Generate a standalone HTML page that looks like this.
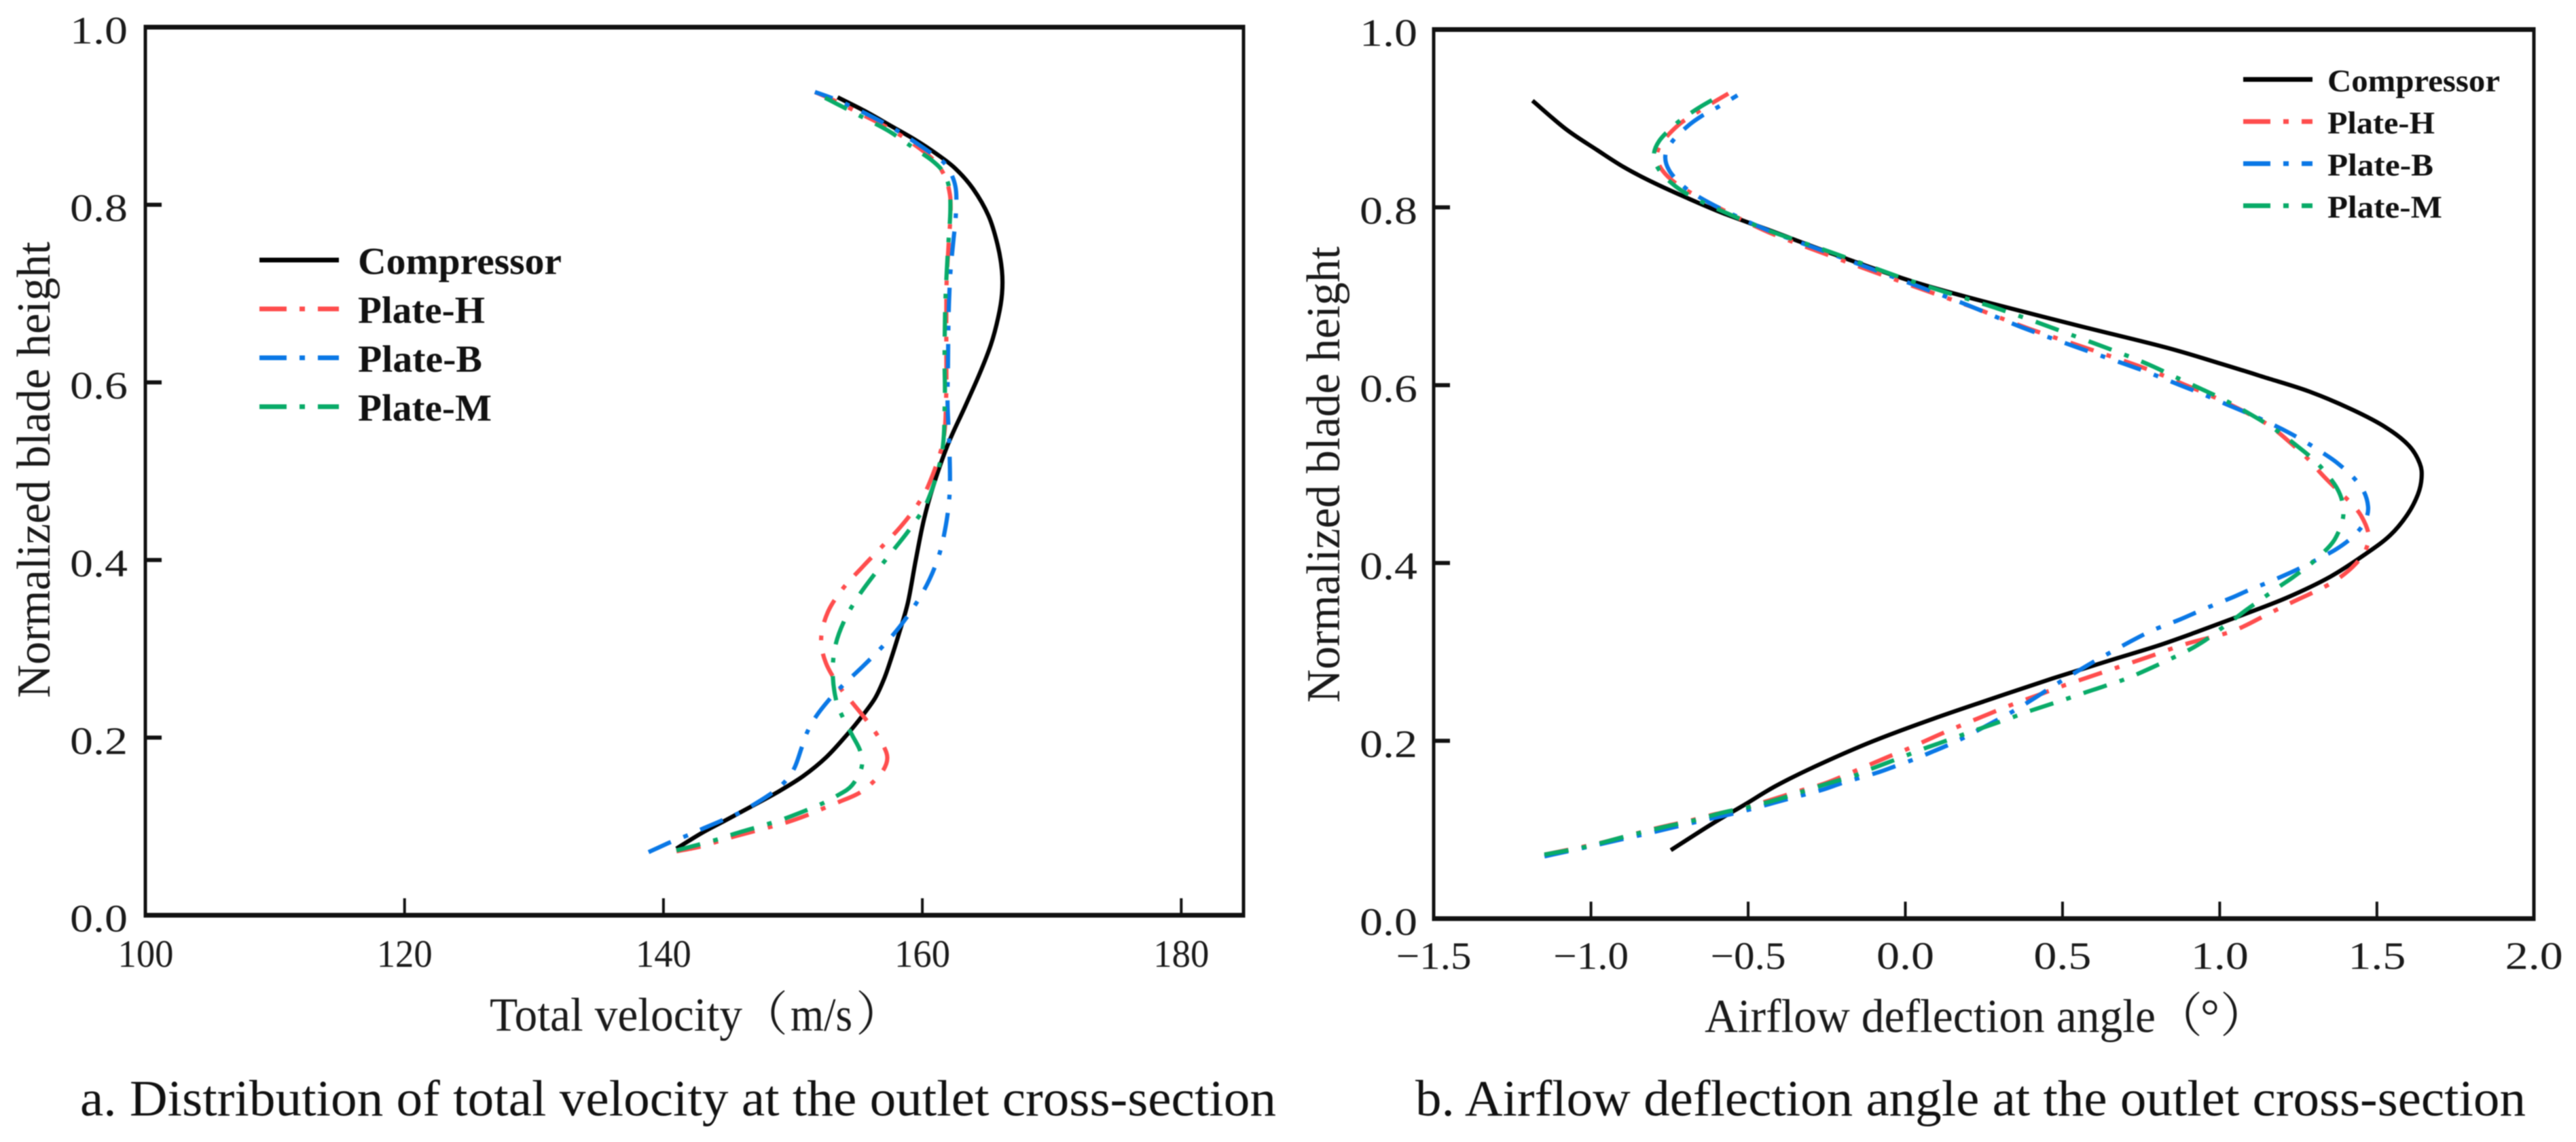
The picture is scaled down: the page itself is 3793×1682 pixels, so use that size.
<!DOCTYPE html>
<html lang="en">
<head>
<meta charset="utf-8">
<title>Outlet cross-section charts</title>
<style>
html,body{margin:0;padding:0;background:#fff;width:3793px;height:1682px;overflow:hidden}
svg{display:block;filter:blur(0.9px)}
text{font-family:"Liberation Serif","Noto Serif CJK SC",serif;fill:#1a1a1a}
.tick{font-size:57px}
.title{font-size:70px}
.cap{font-size:75px;fill:#111}
.leg{font-weight:bold;fill:#111}
</style>
</head>
<body>
<svg id="chart" xmlns="http://www.w3.org/2000/svg" width="3793" height="1682" viewBox="0 0 3793 1682">
  <rect x="0" y="0" width="3793" height="1682" fill="#fff"/>
  <g id="panel-a"></g>
  <g id="panel-b"></g>

  <text class="title" transform="translate(73,1028) rotate(-90)" textLength="672" lengthAdjust="spacingAndGlyphs">Normalized blade height</text>
  <g>
    <text class="title" x="721" y="1518" textLength="372" lengthAdjust="spacingAndGlyphs">Total velocity</text>
    <text class="title" x="1090" y="1518">（</text>
    <text class="title" x="1164" y="1518" textLength="91" lengthAdjust="spacingAndGlyphs">m/s</text>
    <text class="title" x="1260" y="1518">）</text>
  </g>
  <text class="cap" x="118" y="1643" textLength="1761" lengthAdjust="spacingAndGlyphs">a. Distribution of total velocity at the outlet cross-section</text>

  <text class="title" transform="translate(1972,1035) rotate(-90)" textLength="672" lengthAdjust="spacingAndGlyphs">Normalized blade height</text>
  <g>
    <text class="title" x="2510" y="1520" textLength="664" lengthAdjust="spacingAndGlyphs">Airflow deflection angle</text>
    <text class="title" x="3173" y="1520">（</text>
    <text class="title" x="3240" y="1520">°</text>
    <text class="title" x="3269" y="1520">）</text>
  </g>
  <text class="cap" x="2084" y="1643" textLength="1635" lengthAdjust="spacingAndGlyphs">b. Airflow deflection angle at the outlet cross-section</text>
</svg>
<script>
// ---- shared data ----
const seriesNames = ["Compressor", "Plate-H", "Plate-B", "Plate-M"];
const seriesColors = ["#000000", "#ff4d4d", "#0a78e6", "#08ab68"];
const yTickValues = [0.2, 0.4, 0.6, 0.8];
const yTickLabels = ["0.0", "0.2", "0.4", "0.6", "0.8", "1.0"];

// ---- panel a: total velocity (m/s) against normalized blade height ----
const aXTicks = [100, 120, 140, 160, 180];
const aCompressorV = [141,142.95,144.7,146.6,148.9,150.8,152.6,154.3,155.4,156.4,157.05,157.45,158.25,158.9,159.5,160.1,160.7,161.9,163.35,164.45,165.35,165.9,166.2,166.2,165.85,165.2,163.95,162.55,161.15,159.4,157.65,155.55,153.45];
const aCompressorH = [.075,.093,.106,.121,.139,.156,.177,.205,.225,.244,.266,.282,.32,.349,.402,.446,.478,.53,.574,.61,.643,.674,.70,.725,.755,.788,.819,.842,.857,.874,.888,.906,.921];
const aPlateHV = [141,142.6,144.2,145.25,148.4,149.45,151.2,152.3,153.45,155.2,156.15,157.05,157.4,157.05,156.45,155.4,154.5,153.7,152.4,152.05,152.6,153.8,155.3,156.8,158.35,159.65,160.45,161.8,161.85,161.85,161.85,161.85,162,162.2,162.2,161.75,160.95,159.2,157.5,155.55,153.45,151.7];
const aPlateHH = [.072,.076,.083,.088,.10,.104,.113,.12,.127,.137,.149,.163,.177,.19,.205,.225,.241,.254,.285,.311,.342,.368,.391,.414,.437,.462,.481,.534,.585,.635,.674,.712,.75,.791,.811,.834,.851,.87,.886,.90,.916,.927];
const aPlateBV = [138.85,140.6,141.75,142.95,144.55,145.8,148.4,149.35,150.15,150.7,151.1,151.7,152.85,153.7,155.4,156.85,158.25,159.55,160.6,161.4,161.85,162.1,162.15,162.1,161.9,162,162,162.05,162.15,162.4,162.6,162.7,161.85,160.95,159.3,157.6,155.6,153.5,151.7];
const aPlateBH = [.071,.083,.089,.097,.107,.114,.137,.149,.164,.19,.207,.223,.244,.257,.28,.301,.324,.351,.378,.408,.44,.469,.49,.53,.577,.622,.661,.687,.725,.76,.787,.822,.847,.855,.872,.888,.903,.918,.927];
const aPlateMV = [141,144.2,145.25,148.4,149.45,152.4,153.45,154.6,155.45,155.3,154.6,153.8,153.3,153,153.2,153.95,155.1,156.4,157.75,159.05,160.45,161.7,161.75,161.7,161.75,161.9,162,162.2,162.15,161.65,160.9,159.1,157.4,155.45,153.35,151.6];
const aPlateMH = [.073,.085,.091,.104,.109,.126,.135,.144,.167,.184,.202,.224,.24,.273,.304,.333,.361,.386,.411,.435,.463,.52,.585,.623,.687,.73,.755,.796,.819,.838,.849,.866,.884,.898,.914,.927];

// ---- panel b: airflow deflection angle against normalized blade height ----
const bXTicks = [-1.0, -0.5, 0.0, 0.5, 1.0, 1.5];
const bXTickLabels = ["−1.5", "−1.0", "−0.5", "0.0", "0.5", "1.0", "1.5", "2.0"];
const bXTickLabelValues = [-1.5, -1.0, -0.5, 0.0, 0.5, 1.0, 1.5, 2.0];
const bCompressorV = [-.746,-.606,-.51,-.413,-.278,-.105,.088,.281,.474,.636,.808,.924,1.068,1.212,1.356,1.472,1.544,1.601,1.634,1.644,1.641,1.608,1.536,1.428,1.284,1.14,.996,.852,.547,.26,.026,-.235,-.444,-.588,-.71,-.804,-.898,-.977,-1.078,-1.186];
const bCompressorH = [.077,.109,.128,.15,.173,.2,.225,.248,.271,.289,.307,.322,.341,.36,.384,.412,.43,.455,.478,.496,.511,.532,.552,.572,.594,.609,.625,.641,.667,.693,.715,.748,.776,.794,.813,.828,.845,.864,.886,.92];
const bPlateHV = [-1.148,-.965,-.876,-.78,-.683,-.606,-.51,-.433,-.336,-.259,-.167,-.056,-.003,.107,.161,.271,.325,.435,.493,.619,.782,.881,1.05,1.169,1.219,1.335,1.378,1.436,1.468,1.479,1.45,1.414,1.374,1.32,1.288,1.248,1.162,1.097,.989,.877,.782,.6,.391,.208,.026,-.235,-.444,-.58,-.73,-.779,-.795,-.775,-.718,-.674,-.631,-.563];
const bPlateHH = [.072,.085,.094,.103,.11,.118,.124,.133,.144,.151,.165,.182,.189,.207,.215,.231,.239,.253,.261,.276,.295,.309,.322,.346,.354,.373,.382,.399,.415,.432,.455,.469,.482,.501,.515,.528,.555,.567,.586,.602,.617,.639,.663,.689,.711,.745,.772,.797,.825,.842,.86,.874,.895,.904,.914,.928];
const bPlateBV = [-1.148,-1.018,-.842,-.78,-.664,-.548,-.49,-.423,-.316,-.259,-.2,-.148,-.08,-.029,.021,.088,.135,.185,.247,.344,.407,.45,.494,.561,.604,.782,.881,.928,.975,1.047,1.094,1.14,1.212,1.255,1.299,1.371,1.414,1.45,1.468,1.475,1.461,1.428,1.371,1.327,1.284,1.219,1.173,1.119,1.011,.96,.888,.756,.574,.365,.182,.026,-.235,-.444,-.58,-.66,-.707,-.757,-.769,-.743,-.689,-.649,-.599,-.534];
const bPlateBH = [.07,.08,.094,.099,.109,.118,.123,.13,.14,.145,.153,.158,.165,.172,.178,.188,.195,.203,.215,.233,.247,.257,.267,.281,.29,.325,.337,.345,.352,.362,.37,.376,.387,.394,.402,.415,.426,.439,.45,.463,.481,.496,.514,.524,.534,.547,.555,.564,.58,.588,.598,.617,.639,.665,.693,.713,.748,.774,.797,.812,.823,.842,.859,.875,.893,.903,.912,.926];
const bPlateMV = [-1.148,-1.018,-.876,-.76,-.683,-.567,-.51,-.394,-.336,-.23,-.163,-.114,.001,.055,.107,.175,.224,.339,.389,.513,.561,.636,.704,.892,.939,1.003,1.043,1.083,1.144,1.187,1.23,1.291,1.331,1.367,1.396,1.392,1.378,1.331,1.291,1.252,1.191,1.147,1.104,1.04,.989,.946,.877,.756,.547,.313,.026,-.235,-.444,-.624,-.685,-.732,-.786,-.805,-.79,-.728,-.696,-.649,-.588];
const bPlateMH = [.072,.08,.094,.104,.109,.121,.124,.135,.142,.154,.16,.168,.183,.191,.197,.206,.212,.226,.233,.247,.253,.262,.269,.3,.309,.326,.336,.347,.362,.373,.383,.399,.412,.425,.449,.468,.483,.505,.519,.53,.547,.557,.566,.579,.588,.595,.606,.627,.654,.685,.715,.75,.774,.802,.813,.823,.841,.858,.874,.895,.903,.914,.926];

const NS = "http://www.w3.org/2000/svg";

function smoothPoints(pts) {
  return pts.map((p, i) => {
    if (i === 0 || i === pts.length - 1) return p;
    const a = pts[i - 1];
    const b = pts[i + 1];
    return [0.15 * a[0] + 0.7 * p[0] + 0.15 * b[0], 0.15 * a[1] + 0.7 * p[1] + 0.15 * b[1]];
  });
}

function smoothPath(pts) {
  let d = "M" + pts[0][0].toFixed(1) + " " + pts[0][1].toFixed(1);
  for (let i = 0; i < pts.length - 1; i++) {
    const p0 = pts[Math.max(0, i - 1)];
    const p1 = pts[i];
    const p2 = pts[i + 1];
    const p3 = pts[Math.min(pts.length - 1, i + 2)];
    const c1x = p1[0] + (p2[0] - p0[0]) / 6;
    const c1y = p1[1] + (p2[1] - p0[1]) / 6;
    const c2x = p2[0] - (p3[0] - p1[0]) / 6;
    const c2y = p2[1] - (p3[1] - p1[1]) / 6;
    d += " C" + c1x.toFixed(1) + " " + c1y.toFixed(1) + " " + c2x.toFixed(1) + " " + c2y.toFixed(1) + " " + p2[0].toFixed(1) + " " + p2[1].toFixed(1);
  }
  return d;
}

function addRect(parent, x, y, w, h, fill, name) {
  const el = document.createElementNS(NS, "rect");
  el.setAttribute("x", x);
  el.setAttribute("y", y);
  el.setAttribute("width", w);
  el.setAttribute("height", h);
  el.setAttribute("fill", fill);
  
  
  parent.appendChild(el);
}

function addText(parent, str, x, y, cls, anchor, len, name) {
  const el = document.createElementNS(NS, "text");
  el.setAttribute("x", x);
  el.setAttribute("y", y);
  el.setAttribute("class", cls);
  el.setAttribute("text-anchor", anchor);
  if (len) {
    el.setAttribute("textLength", len);
    el.setAttribute("lengthAdjust", "spacingAndGlyphs");
  }
  
  
  el.textContent = str;
  parent.appendChild(el);
}

function addSeries(parent, xs, hs, sx, sy, index, prefix) {
  const pts = smoothPoints(xs.map((v, i) => [sx(v), sy(hs[i])]));
  const el = document.createElementNS(NS, "path");
  el.setAttribute("d", smoothPath(pts));
  el.setAttribute("fill", "none");
  el.setAttribute("stroke", seriesColors[index]);
  el.setAttribute("stroke-width", 6.2);
  el.setAttribute("stroke-linejoin", "round");
  if (index > 0) {
    el.setAttribute("stroke-dasharray", "36 20 7 20");
  }
  
  
  parent.appendChild(el);
}

function addLegend(parent, x0, x1, textX, ys, fontSize, widths, prefix) {
  seriesNames.forEach((name, i) => {
    const line = document.createElementNS(NS, "line");
    line.setAttribute("x1", x0);
    line.setAttribute("x2", x1);
    line.setAttribute("y1", ys[i]);
    line.setAttribute("y2", ys[i]);
    line.setAttribute("stroke", seriesColors[i]);
    line.setAttribute("stroke-width", 7);
    if (i > 0) {
      line.setAttribute("stroke-dasharray", "40 19 8 19");
    }
    
    
    parent.appendChild(line);
    const t = document.createElementNS(NS, "text");
    t.setAttribute("x", textX);
    t.setAttribute("y", ys[i] + fontSize * 0.37);
    t.setAttribute("class", "leg");
    t.setAttribute("font-size", fontSize);
    t.setAttribute("textLength", widths[i]);
    t.setAttribute("lengthAdjust", "spacingAndGlyphs");
    
    
    t.textContent = name;
    parent.appendChild(t);
  });
}

function drawFrame(g, L, R, T, B, sy, prefix, labelRight) {
  addRect(g, L - 2.5, T - 3.5, R - L + 5, 7, "#111", prefix + "-top-spine");
  addRect(g, L - 2.5, B - 3.5, R - L + 5, 7, "#111", prefix + "-bottom-spine");
  addRect(g, L - 2.5, T, 5, B - T, "#111", prefix + "-left-spine");
  addRect(g, R - 2.5, T, 5, B - T, "#111", prefix + "-right-spine");
  yTickValues.forEach(v => {
    addRect(g, L, sy(v) - 3, 24, 6, "#111", prefix + "-y-tick");
  });
  yTickLabels.forEach(s => {
    addText(g, s, labelRight, sy(parseFloat(s)) + 24, "tick", "end", 85, prefix + "-y-tick-label");
  });
}

// panel a
(function () {
  const g = document.getElementById("panel-a");
  const L = 214, R = 1831, T = 40, B = 1348;
  const sx = v => 214.5 + (v - 100) * 19.06;
  const sy = h => B - h * (B - T);
  drawFrame(g, L, R, T, B, sy, "velocity", 188);
  aXTicks.forEach(v => {
    if (v !== aXTicks[0]) {
      addRect(g, sx(v) - 2, B - 25, 4, 25, "#111", "velocity-x-tick");
    }
    addText(g, String(v), sx(v), 1424, "tick", "middle", 82, "velocity-x-tick-label");
  });
  addSeries(g, aCompressorV, aCompressorH, sx, sy, 0, "velocity");
  addSeries(g, aPlateHV, aPlateHH, sx, sy, 1, "velocity");
  addSeries(g, aPlateBV, aPlateBH, sx, sy, 2, "velocity");
  addSeries(g, aPlateMV, aPlateMH, sx, sy, 3, "velocity");
  addLegend(g, 382, 499, 527, [383, 455, 527, 599], 56, [300, 187, 183, 197], "velocity");
})();

// panel b
(function () {
  const g = document.getElementById("panel-b");
  const L = 2111, R = 3731, T = 43.5, B = 1353;
  const sx = v => 2805.5 + v * 462.9;
  const sy = h => B - h * (B - T);
  drawFrame(g, L, R, T, B, sy, "deflection", 2087);
  bXTicks.forEach(v => {
    addRect(g, sx(v) - 2, B - 25, 4, 25, "#111", "deflection-x-tick");
  });
  bXTickLabels.forEach((s, i) => {
    addText(g, s, sx(bXTickLabelValues[i]), 1427, "tick", "middle", s.length === 4 ? 111 : 85, "deflection-x-tick-label");
  });
  addSeries(g, bCompressorV, bCompressorH, sx, sy, 0, "deflection");
  addSeries(g, bPlateHV, bPlateHH, sx, sy, 1, "deflection");
  addSeries(g, bPlateBV, bPlateBH, sx, sy, 2, "deflection");
  addSeries(g, bPlateMV, bPlateMH, sx, sy, 3, "deflection");
  addLegend(g, 3303, 3405, 3427, [117, 179, 241, 303], 47, [254, 158, 156, 169], "deflection");
})();
</script>
</body>
</html>
